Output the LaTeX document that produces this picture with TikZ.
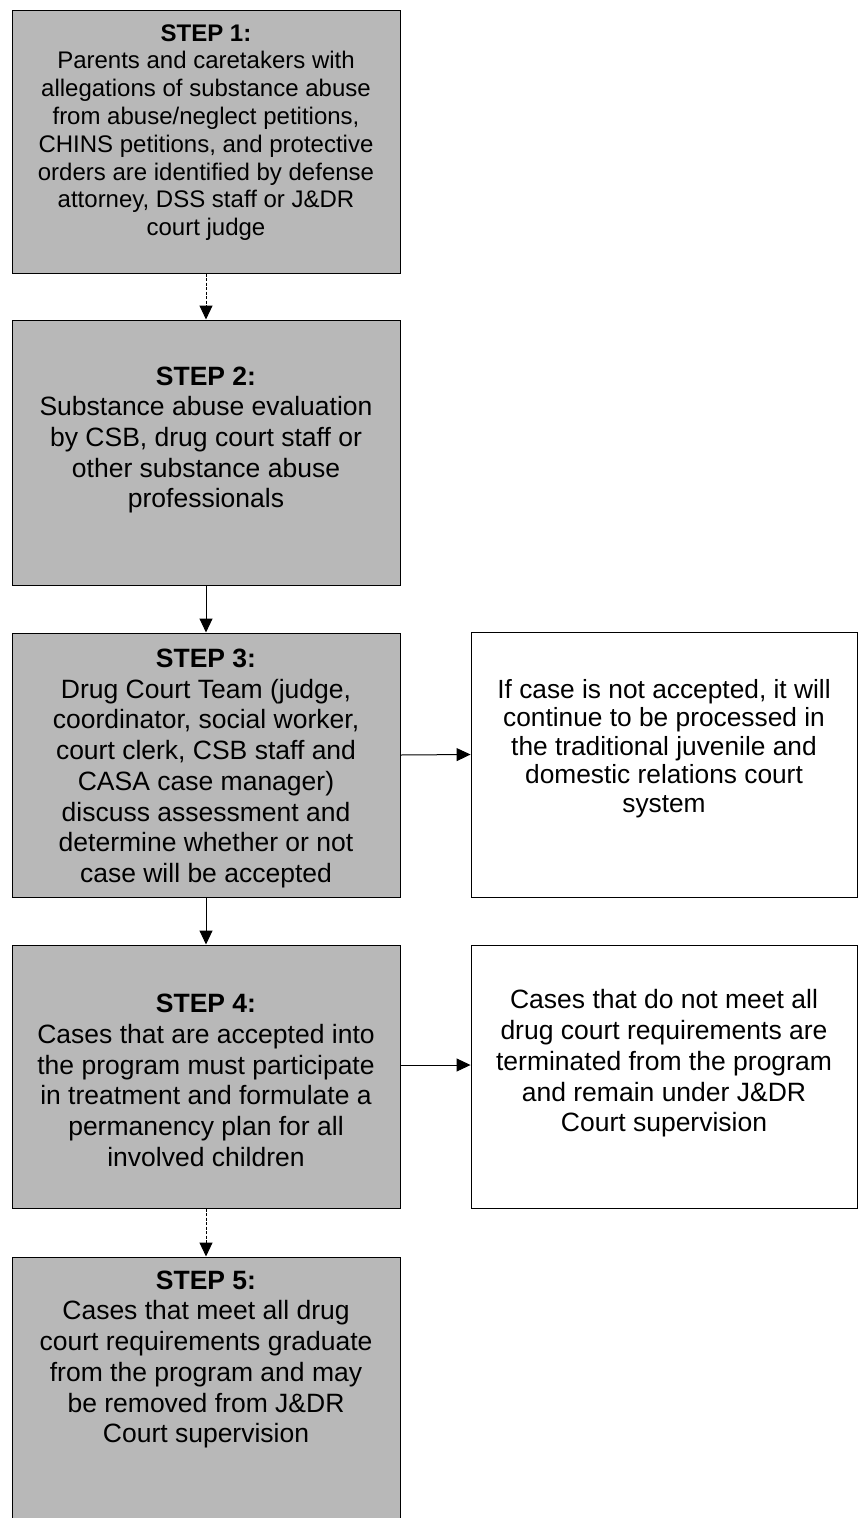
\documentclass[tikz,border=0pt]{standalone}
\usepackage{fontspec}
\setmainfont{Liberation Sans}
\usetikzlibrary{arrows.meta}
\begin{document}
\begin{tikzpicture}[x=1pt,y=-1pt,
  greybox/.style={draw=black, line width=1pt, fill=black!28, inner sep=0pt},
  whitebox/.style={draw=black, line width=0.9pt, fill=white, inner sep=0pt},
  txt/.style={align=center, inner sep=0pt, font=\fontsize{26.5}{30.7}\selectfont},
  arr/.style={-{Triangle[length=14pt,width=13pt]}, line width=1pt},
  dasharr/.style={arr, dash pattern=on 3pt off 1.5pt}]
\useasboundingbox (0,0) rectangle (859,1518);
% grey step boxes
\node[greybox, minimum width=388pt, minimum height=263pt] (s1) at (206,141.5) {};
\node[greybox, minimum width=388pt, minimum height=265pt] (s2) at (206,452.5) {};
\node[greybox, minimum width=388pt, minimum height=264pt] (s3) at (206,765) {};
\node[greybox, minimum width=388pt, minimum height=263pt] (s4) at (206,1076.5) {};
\node[greybox, minimum width=388pt, minimum height=280pt] (s5) at (206,1397) {};
% white side boxes
\node[whitebox, minimum width=386pt, minimum height=265pt] (na) at (664,764.5) {};
\node[whitebox, minimum width=386pt, minimum height=263pt] (nb) at (664,1076.5) {};
% texts
\node[txt, font=\fontsize{24}{27.8}\selectfont] (t1) at (206,132.5) {\textbf{STEP 1:}\\Parents and caretakers with\\allegations of substance abuse\\from abuse/neglect petitions,\\CHINS petitions, and protective\\orders are identified by defense\\attorney, DSS staff or J\&DR\\court judge};
\node[txt] (t2) at (206,440) {\textbf{STEP 2:}\\Substance abuse evaluation\\by CSB, drug court staff or\\other substance abuse\\professionals};
\node[txt] (t3) at (206,768.5) {\textbf{STEP 3:}\\Drug Court Team (judge,\\coordinator, social worker,\\court clerk, CSB staff and\\CASA case manager)\\discuss assessment and\\determine whether or not\\case will be accepted};
\node[txt] (t4) at (206,1080.5) {\textbf{STEP 4:}\\Cases that are accepted into\\the program must participate\\in treatment and formulate a\\permanency plan for all\\involved children};
\node[txt] (t5) at (206,1359.5) {\textbf{STEP 5:}\\Cases that meet all drug\\court requirements graduate\\from the program and may\\be removed from J\&DR\\Court supervision};
\node[txt, font=\fontsize{26.3}{28.6}\selectfont] (ta) at (664,748.5) {If case is not accepted, it will\\continue to be processed in\\the traditional juvenile and\\domestic relations court\\system};
\node[txt] (tb) at (664,1063.5) {Cases that do not meet all\\drug court requirements are\\terminated from the program\\and remain under J\&DR\\Court supervision};
% connectors
\draw[dasharr] (s1.south) -- (s2.north);
\draw[arr] (s2.south) -- (s3.north);
\draw[arr] (s3.south) -- (s4.north);
\draw[dasharr] (s4.south) -- (s5.north);
\draw[arr] ([yshift=10pt]s3.east) -- ([yshift=10pt]na.west);
\draw[arr] ([yshift=11.5pt]s4.east) -- ([yshift=11.5pt]nb.west);
\end{tikzpicture}
\end{document}
